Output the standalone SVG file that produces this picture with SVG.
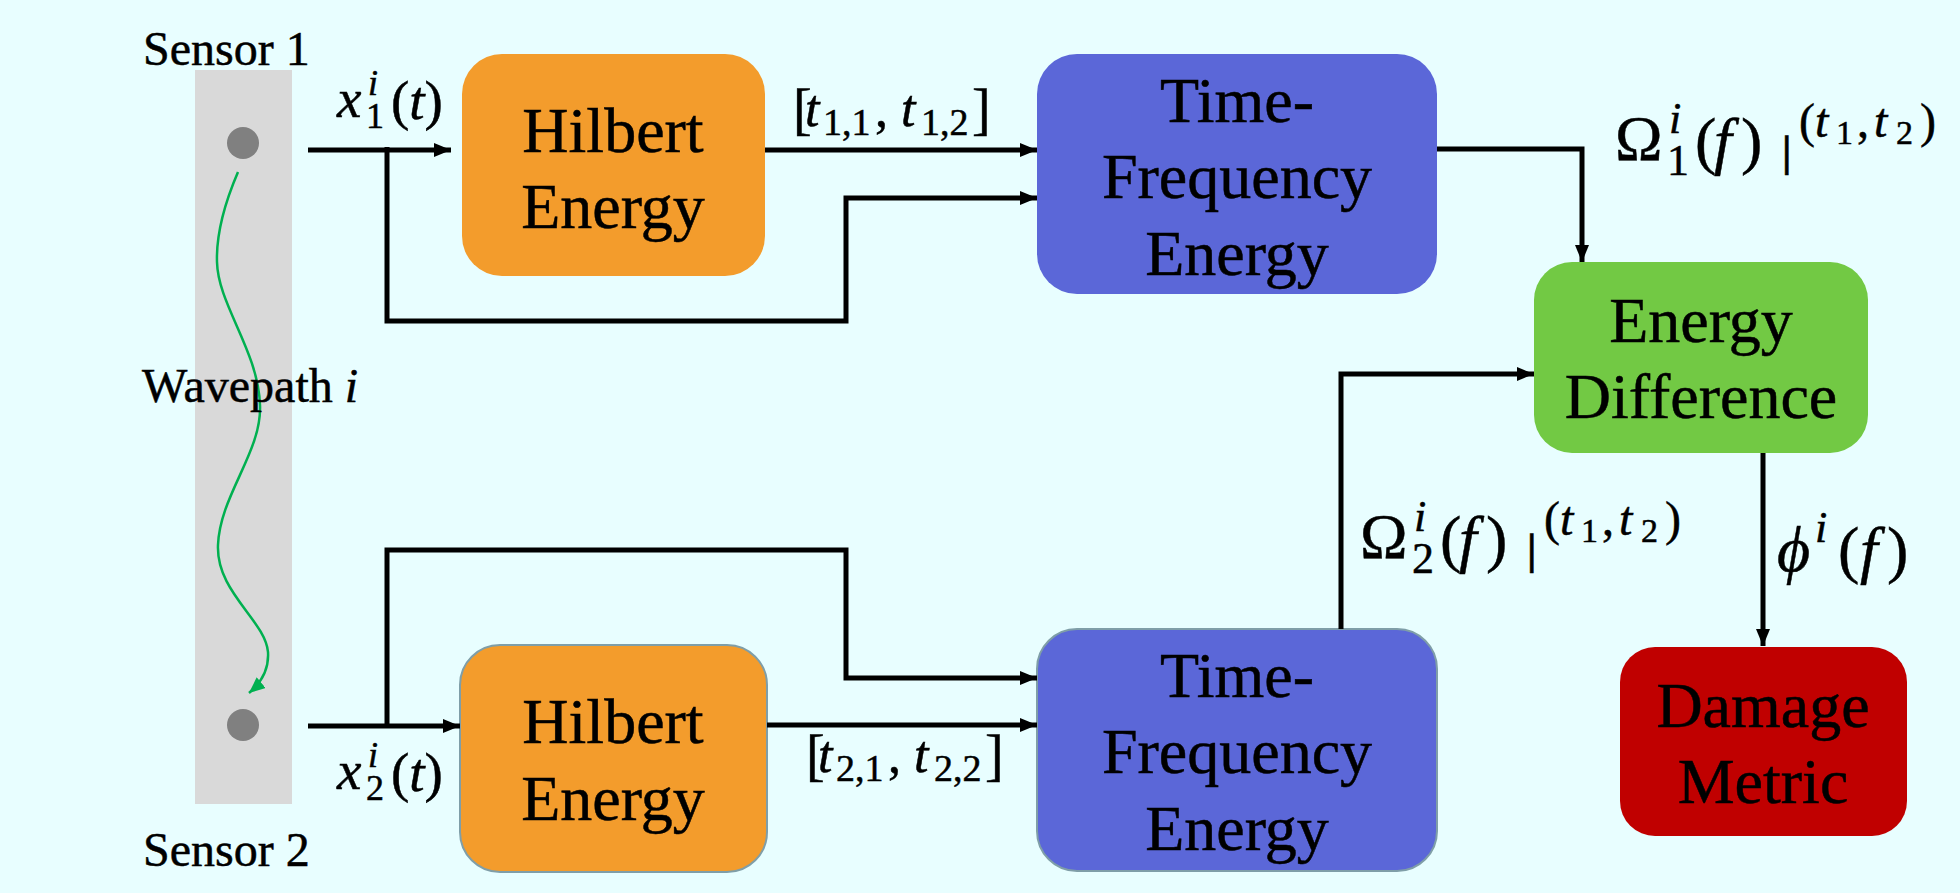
<svg xmlns="http://www.w3.org/2000/svg" width="1960" height="893" viewBox="0 0 1960 893">
<style>
.t{font-family:"Liberation Serif",Tinos,"Times New Roman",Times,"DejaVu Serif",serif;fill:#000;stroke:#000;stroke-width:0.5}
.bt{font-size:64px;text-anchor:middle}
.lab{font-size:48px}
.m{font-size:64px}
.it{font-style:italic}
.sup{font-size:44px}
.ex{font-size:48px}
.sub{font-size:34px}
.bar{font-family:"DejaVu Serif",serif;font-size:40px}
.conn{fill:none;stroke:#000;stroke-width:5;stroke-linejoin:miter}
.bord{stroke:#7F9EA8;stroke-width:2}
</style>
<defs>
<marker id="ah" markerUnits="userSpaceOnUse" markerWidth="17" markerHeight="14" refX="17" refY="7" orient="auto">
<path d="M0,0 L17,7 L0,14 z" fill="#000"/>
</marker>
<marker id="gh" markerUnits="userSpaceOnUse" markerWidth="16" markerHeight="14" refX="16" refY="7" orient="auto">
<path d="M0,0 L16,7 L0,14 z" fill="#00B050"/>
</marker>
</defs>
<rect x="0" y="0" width="1960" height="893" fill="#E8FEFF"/>

<g id="sensor-strip">
<rect x="195" y="70" width="97" height="734" fill="#D9D9D9"/>
<circle cx="243" cy="143" r="16" fill="#808080"/>
<circle cx="243" cy="725" r="16" fill="#808080"/>
<path d="M238,172 C226,200 216,230 217,262 C218,305 258,350 260,405 C262,452 220,495 218,545 C216,592 265,620 268,652 C269,668 262,682 249,693" fill="none" stroke="#00B050" stroke-width="2.5" marker-end="url(#gh)"/>
<text class="t lab" x="143" y="65">Sensor 1</text>
<text class="t lab" x="143" y="866">Sensor 2</text>
<text class="t lab" x="142" y="402">Wavepath <tspan class="it">i</tspan></text>
</g>

<g id="hilbert1">
<rect x="462" y="54" width="303" height="222" rx="40" fill="#F39C2C"/>
<text class="t bt" x="613" y="152">Hilbert</text>
<text class="t bt" x="613" y="228">Energy</text>
</g>

<g id="hilbert2">
<rect x="460" y="645" width="307" height="227" rx="40" fill="#F39C2C" class="bord"/>
<text class="t bt" x="613" y="743">Hilbert</text>
<text class="t bt" x="613" y="820">Energy</text>
</g>

<g id="tfe1">
<rect x="1037" y="54" width="400" height="240" rx="40" fill="#5B67D8"/>
<text class="t bt" x="1237" y="122">Time-</text>
<text class="t bt" x="1237" y="198">Frequency</text>
<text class="t bt" x="1237" y="275">Energy</text>
</g>

<g id="tfe2">
<rect x="1037" y="629" width="400" height="242" rx="40" fill="#5B67D8" class="bord"/>
<text class="t bt" x="1237" y="697">Time-</text>
<text class="t bt" x="1237" y="773">Frequency</text>
<text class="t bt" x="1237" y="850">Energy</text>
</g>

<g id="energy-difference">
<rect x="1534" y="262" width="334" height="191" rx="38" fill="#72C944"/>
<text class="t bt" x="1701" y="342">Energy</text>
<text class="t bt" x="1701" y="418">Difference</text>
</g>

<g id="damage-metric">
<rect x="1620" y="647" width="287" height="189" rx="35" fill="#C00000"/>
<text class="t bt" x="1763" y="727">Damage</text>
<text class="t bt" x="1763" y="803">Metric</text>
</g>

<g id="connectors">
<path class="conn" d="M308,150 L451,150" marker-end="url(#ah)"/>
<path class="conn" d="M387,147 L387,321 L846,321 L846,198 L1037,198" marker-end="url(#ah)"/>
<path class="conn" d="M765,150 L1037,150" marker-end="url(#ah)"/>
<path class="conn" d="M1437,149 L1582,149 L1582,262" marker-end="url(#ah)"/>
<path class="conn" d="M308,726 L460,726" marker-end="url(#ah)"/>
<path class="conn" d="M387,728 L387,550 L846,550 L846,678 L1037,678" marker-end="url(#ah)"/>
<path class="conn" d="M767,725 L1037,725" marker-end="url(#ah)"/>
<path class="conn" d="M1341,629 L1341,374 L1534,374" marker-end="url(#ah)"/>
<path class="conn" d="M1763,453 L1763,646" marker-end="url(#ah)"/>
</g>

<g id="labels">
<text class="t" font-size="55"><tspan x="337" y="117" class="it">x</tspan><tspan x="368" y="95" class="it" font-size="36">i</tspan><tspan x="366" y="128" font-size="36">1</tspan><tspan x="391" y="119">(</tspan><tspan class="it">t</tspan><tspan>)</tspan></text>
<text class="t" font-size="55"><tspan x="337" y="789" class="it">x</tspan><tspan x="368" y="767" class="it" font-size="36">i</tspan><tspan x="366" y="800" font-size="36">2</tspan><tspan x="391" y="791">(</tspan><tspan class="it">t</tspan><tspan>)</tspan></text>

<text class="t" font-size="52"><tspan x="793" y="128" font-size="56">[</tspan><tspan x="805" y="126" class="it">t</tspan><tspan x="823" y="135" font-size="38">1,1</tspan><tspan x="875" y="126">,</tspan><tspan x="901" y="126" class="it">t</tspan><tspan x="921" y="135" font-size="38">1,2</tspan><tspan x="972" y="128" font-size="56">]</tspan></text>
<text class="t" font-size="52"><tspan x="806" y="774" font-size="56">[</tspan><tspan x="818" y="772" class="it">t</tspan><tspan x="836" y="781" font-size="38">2,1</tspan><tspan x="888" y="772">,</tspan><tspan x="914" y="772" class="it">t</tspan><tspan x="934" y="781" font-size="38">2,2</tspan><tspan x="985" y="774" font-size="56">]</tspan></text>

<text class="t m"><tspan x="1615" y="160">Ω</tspan><tspan x="1669" y="133" class="it sup">i</tspan><tspan x="1667" y="175" class="sup">1</tspan><tspan x="1695" y="162">(</tspan><tspan x="1714" y="162" class="it">f</tspan><tspan x="1741" y="162">)</tspan><tspan x="1780" y="166" class="bar">|</tspan><tspan x="1799" y="137" class="ex">(</tspan><tspan x="1815" y="137" class="it ex">t</tspan><tspan x="1836" y="144" class="sub">1</tspan><tspan x="1857" y="137" class="ex">,</tspan><tspan x="1874" y="137" class="it ex">t</tspan><tspan x="1896" y="144" class="sub">2</tspan><tspan x="1920" y="137" class="ex">)</tspan></text>

<text class="t m"><tspan x="1360" y="558">Ω</tspan><tspan x="1414" y="531" class="it sup">i</tspan><tspan x="1412" y="573" class="sup">2</tspan><tspan x="1440" y="560">(</tspan><tspan x="1459" y="560" class="it">f</tspan><tspan x="1486" y="560">)</tspan><tspan x="1525" y="564" class="bar">|</tspan><tspan x="1544" y="535" class="ex">(</tspan><tspan x="1560" y="535" class="it ex">t</tspan><tspan x="1581" y="542" class="sub">1</tspan><tspan x="1602" y="535" class="ex">,</tspan><tspan x="1619" y="535" class="it ex">t</tspan><tspan x="1641" y="542" class="sub">2</tspan><tspan x="1665" y="535" class="ex">)</tspan></text>

<text class="t m"><tspan x="1777" y="571" class="it">ϕ</tspan><tspan x="1815" y="542" class="it sup">i</tspan><tspan x="1838" y="571">(</tspan><tspan x="1860" y="571" class="it">f</tspan><tspan x="1887" y="571">)</tspan></text>
</g>
</svg>
